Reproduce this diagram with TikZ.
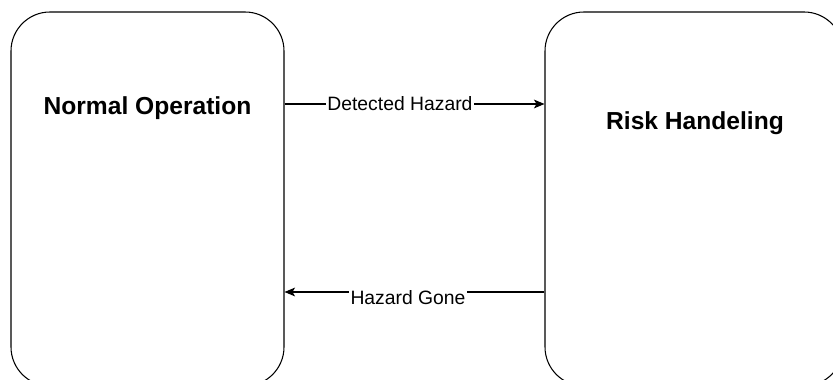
\documentclass[tikz,border=0pt]{standalone}
\usepackage{fontspec}
\setmainfont{Liberation Sans}
\usetikzlibrary{arrows.meta}

\begin{document}
\begin{tikzpicture}[
    state/.style={draw, line width=0.6pt, rounded corners=0.78cm, minimum height=7.48cm, inner sep=0pt},
    flow/.style={-{Stealth[length=6pt,width=5pt,inset=1.5pt]}, line width=0.6pt},
    flowlabel/.style={fill=white, inner sep=1pt, font=\fontsize{11}{13}\selectfont},
    title/.style={font=\fontsize{14}{17}\selectfont\bfseries}
]
    \useasboundingbox (0,0) rectangle (16.66,7.6);
    \clip (0,0) rectangle (16.66,7.6);

    % States
    \node[state, minimum width=5.46cm] (normal) at (2.95,3.62) {};
    \node[state, minimum width=5.96cm] (risk) at (13.88,3.62) {};
    \node[title] (normaltxt) at (2.95,5.44) {Normal Operation};
    \node[title] (risktxt) at (13.9,5.14) {Risk Handeling};

    % Transitions
    \coordinate (upper) at (0,5.52);
    \coordinate (lower) at (0,1.76);
    \draw[flow] (normal.east |- upper) -- (risk.west |- upper)
        node[flowlabel, pos=0.444] (detected) {Detected Hazard};
    \draw[flow] (risk.west |- lower) -- (normal.east |- lower)
        node[flowlabel, pos=0.525, yshift=-0.12cm] (gone) {Hazard Gone};
\end{tikzpicture}
\end{document}
